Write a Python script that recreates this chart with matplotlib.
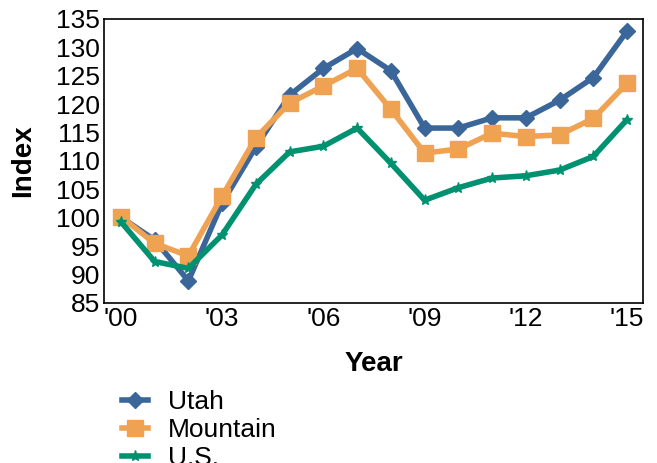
import matplotlib
matplotlib.use("Agg")
import matplotlib.pyplot as plt

plt.rcParams["font.family"] = ["Liberation Sans", "DejaVu Sans"]

years = list(range(2000, 2016))
year_labels = ["'00", "'03", "'06", "'09", "'12", "'15"]

utah = [100.1, 96.1, 88.9, 102.6, 112.5, 121.6, 126.3, 129.8,
        125.9, 115.8, 115.8, 117.6, 117.6, 120.7, 124.7, 132.9]
mountain = [100.2, 95.5, 93.3, 103.8, 114.1, 120.2, 123.2, 126.3,
            119.1, 111.4, 112.1, 114.9, 114.3, 114.6, 117.5, 123.7]
us = [99.3, 92.3, 91.1, 97.0, 105.9, 111.6, 112.6, 115.8,
      109.6, 103.1, 105.3, 107.0, 107.4, 108.4, 110.8, 117.3]

fig = plt.figure(figsize=(6.57, 4.63), dpi=100)
ax = fig.add_axes([104 / 657, 1 - 303 / 463, 539 / 657, 284 / 463])

x = [y - 2000 for y in years]
ax.plot(x, utah, color="#3b6699", lw=4, marker="D", ms=8, label="Utah")
ax.plot(x, mountain, color="#efa352", lw=4, marker="s", ms=11, label="Mountain")
ax.plot(x, us, color="#009270", lw=4, marker="*", ms=8, label="U.S.")

ax.set_xlim(-0.5, 15.47)
ax.set_ylim(85, 135)
ax.set_xticks([0, 3, 6, 9, 12, 15])
ax.set_xticklabels(year_labels)
ax.set_yticks(range(85, 136, 5))
ax.tick_params(length=0, labelsize=19, pad=3)
for s in ax.spines.values():
    s.set_linewidth(1.2)

ax.set_xlabel("Year", fontsize=20, fontweight="bold", labelpad=14)
ax.set_ylabel("Index", fontsize=20, fontweight="bold", labelpad=14)

fig.legend(*ax.get_legend_handles_labels(), loc="upper left",
           bbox_to_anchor=(122 / 657, 1 - 390 / 463), frameon=False,
           fontsize=19, handlelength=1.0, handletextpad=0.75,
           labelspacing=0.15, borderpad=0, borderaxespad=0)

fig.savefig("out.png", dpi=100)
